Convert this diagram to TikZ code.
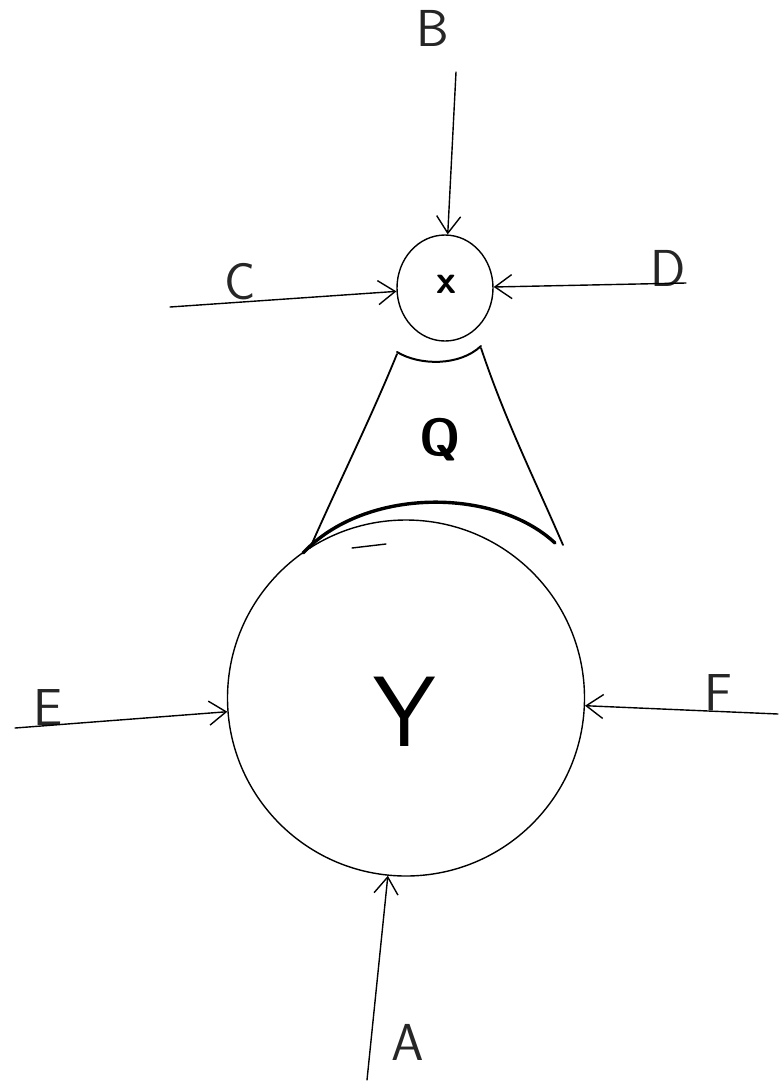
\documentclass[tikz,border=0pt]{standalone}
\usetikzlibrary{arrows.meta,shapes.geometric}
\begin{document}
\begin{tikzpicture}[x=1pt,y=-1pt,
  hand/.style={line width=1.4pt,line cap=round,line join=round},
  inarrow/.style={hand,-{Straight Barb[length=17pt,width=24pt,line width=1.4pt]}},
  lbl/.style={font=\sffamily\fontsize{52}{52}\selectfont\color{black!85}},
  body/.style={draw,hand,ellipse,inner sep=0pt}]
\useasboundingbox (0,0) rectangle (782,1085);
% nodes
\node[body,minimum width=96pt,minimum height=106pt] (X) at (445,288) {};
\node[font=\sffamily\bfseries\fontsize{40}{40}\selectfont] (Xl) at (446,284) {x};
\node[body,minimum width=357pt,minimum height=356pt] (Y) at (406,698) {};
\node[font=\sffamily\fontsize{100}{100}\selectfont] (Yl) at (405,712) {Y};
\node[font=\sffamily\bfseries\fontsize{52}{52}\selectfont] (Q) at (440,440) {Q};
% Q shape
\draw[line width=2pt,line cap=round] (397,352) .. controls (420,366) and (460,366) .. (481,346);
\draw[line width=1.8pt,line cap=round] (397,354) .. controls (370,420) and (340,480) .. (310,548);
\draw[line width=1.8pt,line cap=round] (481,348) .. controls (505,420) and (535,480) .. (563,545);
\draw[line width=3.4pt,line cap=round] (303,553) .. controls (365,487) and (495,487) .. (555,543);
\draw[hand] (352,548) -- (386,544);
% labels
\node[lbl] (B) at (433,28) {B};
\node[lbl] (C) at (240,282) {C};
\node[lbl] (D) at (668,268) {D};
\node[lbl] (E) at (48,707) {E};
\node[lbl] (F) at (718,692) {F};
\node[lbl] (A) at (408,1042) {A};
% free ends
\coordinate (b0) at (456,72);
\coordinate (c0) at (170,307);
\coordinate (d0) at (686,283);
\coordinate (e0) at (15,728);
\coordinate (f0) at (778,714);
\coordinate (a0) at (367,1080);
% connectors
\draw[inarrow] (b0) -- (X);
\draw[inarrow] (c0) -- (X);
\draw[inarrow] (d0) -- (X);
\draw[inarrow] (e0) -- (Y);
\draw[inarrow] (f0) -- (Y);
\draw[inarrow] (a0) -- (Y);
\end{tikzpicture}
\end{document}
